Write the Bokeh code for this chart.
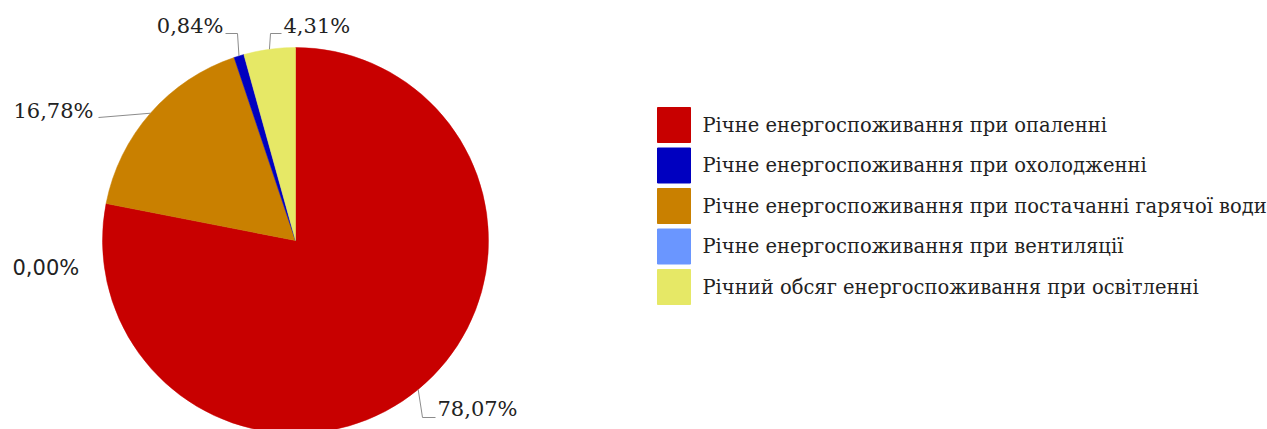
import math
from bokeh.plotting import figure
from bokeh.models import Range1d, ColumnDataSource
from bokeh.core.properties import value
from bokeh.embed import file_html
from bokeh.resources import INLINE

# ---- data ----
categories = [
    "Річне енергоспоживання при опаленні",
    "Річне енергоспоживання при охолодженні",
    "Річне енергоспоживання при постачанні гарячої води",
    "Річне енергоспоживання при вентиляції",
    "Річний обсяг енергоспоживання при освітленні",
]
shares = [78.07, 0.84, 16.78, 0.00, 4.31]
colors = ["#c80000", "#0000c0", "#c98000", "#6a96ff", "#e6e866"]
pie_order = [0, 3, 2, 1, 4]  # clockwise drawing order from 12 o'clock

# ---- layout (page pixels) ----
W, H = 1267, 429
def X(px): return px
def Y(py): return H - py

CX, CY, R = 295, 240, 193
SERIF = "DejaVu Serif"

p = figure(width=W, height=H, output_backend="svg", toolbar_location=None,
           x_range=Range1d(0, W), y_range=Range1d(0, H), min_border=0)
p.axis.visible = False
p.grid.visible = False
p.outline_line_color = None
p.background_fill_color = "white"

# wedges (clockwise from top)
total = sum(shares)
starts, ends, wcols, mids = [], [], [], {}
acc = 0.0
for i in pie_order:
    a0 = acc / total * 360.0
    acc += shares[i]
    a1 = acc / total * 360.0
    mids[i] = (a0 + a1) / 2.0
    if shares[i] <= 0:
        continue
    starts.append(math.radians(90 - a1))
    ends.append(math.radians(90 - a0))
    wcols.append(colors[i])
src = ColumnDataSource(dict(x=[X(CX)] * len(starts), y=[Y(CY)] * len(starts),
                            s=starts, e=ends, c=wcols))
p.wedge(x="x", y="y", radius=R, start_angle="s", end_angle="e",
        fill_color="c", line_color="c", line_width=0.5, source=src)

# percentage labels with leader lines
def fmt(v): return f"{v:.2f}".replace(".", ",") + "%"

# per category: (elbow px, elbow py, label anchor px, anchor py, align, leader?)
label_layout = {
    0: (422, 417, 437, 408, "left", True),
    1: (237, 33, 223, 25, "right", True),
    2: (98, 117, 93, 110, "right", True),
    3: (None, None, 12, 267, "left", False),
    4: (270, 33, 283, 25, "left", True),
}
for i, (ex, ey, lx, ly, align, leader) in label_layout.items():
    if leader:
        th = math.radians(mids[i])
        sx = CX + R * math.sin(th)
        sy = CY - R * math.cos(th)
        xs = [X(sx), X(ex)]
        ys = [Y(sy), Y(ey)]
        if i != 2:
            xs.append(X(lx - 2 if align == "left" else lx + 2))
            ys.append(Y(ey))
        p.line(xs, ys, line_color="#8c8c8c", line_width=1)
    font = "DejaVu Sans" if i == 3 else SERIF
    p.text(x=[X(lx)], y=[Y(ly)], text=[fmt(shares[i])], text_font=value(font),
           text_font_size="21px", text_color="#222222", text_align=align,
           text_baseline="middle")

# legend
lx0, ly0, step = 673.5, 124.5, 40.5
leg = ColumnDataSource(dict(
    x=[X(lx0)] * len(categories),
    y=[Y(ly0 + k * step) for k in range(len(categories))],
    tx=[X(702)] * len(categories),
    c=colors, t=categories))
p.rect(x="x", y="y", width=33, height=35, fill_color="c", line_color="c", source=leg)
p.text(x="tx", y="y", text="t", text_font=value(SERIF), text_font_size="19.5px",
       text_color="#222222", text_baseline="middle", source=leg)

open("out.html", "w").write(file_html(p, INLINE))
